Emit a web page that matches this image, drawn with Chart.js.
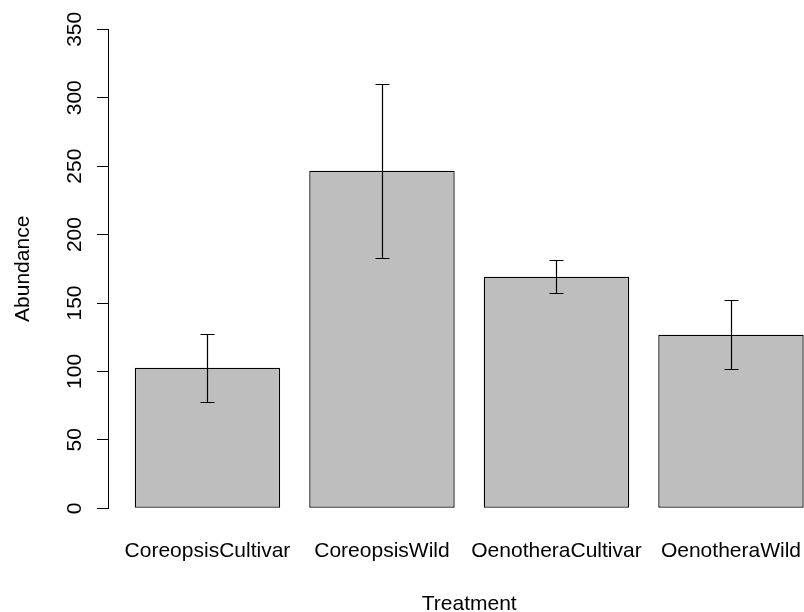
<!DOCTYPE html>
<html>
<head>
<meta charset="utf-8">
<script src="https://cdn.jsdelivr.net/npm/chart.js@4.4.0/dist/chart.umd.min.js"></script>
<style>
  html, body { margin: 0; padding: 0; background: #fff; overflow: hidden; }
  body { width: 804px; height: 612px; }
  canvas { display: block; }
</style>
</head>
<body>
<canvas id="barChart" width="831" height="612"></canvas>
<script>
// Data
const categories = ['CoreopsisCultivar', 'CoreopsisWild', 'OenotheraCultivar', 'OenotheraWild'];
const means = [102.7, 246.6, 169.2, 126.8];
const stdErrors = [24.7, 63.5, 12.2, 25.2];
const yTicks = [0, 50, 100, 150, 200, 250, 300, 350];

const FONT_FAMILY = "'Liberation Sans', Arial, sans-serif";
const FONT_SIZE = 21;

// barplot() layout: bars of width 1 with a gap of 0.2 in front of each
const barSpace = 0.2;
const barCenter = i => barSpace + 0.5 + i * (1 + barSpace);
const xLo = barSpace;
const xHi = categories.length * (1 + barSpace);
const xPad = (xHi - xLo) * 0.04;

// error bars drawn on top of the bars
const errorBars = {
  id: 'errorBars',
  afterDatasetsDraw(chart) {
    const ctx = chart.ctx;
    const yScale = chart.scales.y;
    const meta = chart.getDatasetMeta(0);
    ctx.save();
    ctx.strokeStyle = '#000';
    ctx.lineWidth = 1.2;
    meta.data.forEach((bar, i) => {
      const top = Math.round(yScale.getPixelForValue(means[i] + stdErrors[i])) + 0.5;
      const bottom = Math.round(yScale.getPixelForValue(means[i] - stdErrors[i])) + 0.5;
      const x = Math.round(bar.x) + 0.5;
      ctx.beginPath();
      ctx.moveTo(x, top);
      ctx.lineTo(x, bottom);
      ctx.moveTo(x - 7, top);
      ctx.lineTo(x + 7, top);
      ctx.moveTo(x - 7, bottom);
      ctx.lineTo(x + 7, bottom);
      ctx.stroke();
    });
    ctx.restore();
  }
};

// rotated y tick labels and the two axis titles
const axisText = {
  id: 'axisText',
  afterDraw(chart) {
    const { ctx, chartArea, scales } = chart;
    ctx.save();
    ctx.fillStyle = '#000';
    ctx.font = FONT_SIZE + 'px ' + FONT_FAMILY;
    ctx.textAlign = 'center';
    ctx.textBaseline = 'alphabetic';

    scales.y.ticks.forEach(t => {
      ctx.save();
      ctx.translate(81, scales.y.getPixelForValue(t.value));
      ctx.rotate(-Math.PI / 2);
      ctx.fillText(String(t.value), 0, 0);
      ctx.restore();
    });

    ctx.save();
    ctx.translate(29, (chartArea.top + chartArea.bottom) / 2);
    ctx.rotate(-Math.PI / 2);
    ctx.fillText('Abundance', 0, 0);
    ctx.restore();

    ctx.fillText('Treatment', (chartArea.left + chartArea.right) / 2, 610);
    ctx.restore();
  }
};

new Chart(document.getElementById('barChart'), {
  type: 'bar',
  data: {
    datasets: [{
      data: categories.map((c, i) => ({ x: barCenter(i), y: means[i] })),
      backgroundColor: '#bebebe',
      borderColor: '#000',
      borderWidth: 1.3,
      borderSkipped: false,
      categoryPercentage: 1,
      barPercentage: 1 / (1 + barSpace)
    }]
  },
  options: {
    responsive: false,
    animation: false,
    events: [],
    layout: { padding: { top: 29.3, left: 0, right: 0, bottom: 0 } },
    plugins: {
      legend: { display: false },
      tooltip: { enabled: false }
    },
    scales: {
      x: {
        type: 'linear',
        offset: false,
        bounds: 'data',
        min: xLo - xPad,
        max: xHi + xPad,
        afterBuildTicks: s => { s.ticks = categories.map((c, i) => ({ value: barCenter(i) })); },
        afterFit: s => { s.height = 103.7; },
        grid: { display: false, drawTicks: false, offset: false },
        border: { display: false },
        ticks: {
          autoSkip: false,
          maxRotation: 0,
          minRotation: 0,
          padding: 30,
          color: '#000',
          font: { family: FONT_FAMILY, size: FONT_SIZE },
          callback: (v, i) => categories[i]
        }
      },
      y: {
        min: 0,
        max: 350,
        afterBuildTicks: s => { s.ticks = yTicks.map(v => ({ value: v })); },
        afterFit: s => { s.width = 108; },
        grid: { drawOnChartArea: false, drawTicks: true, tickLength: 11, color: '#000', lineWidth: 1 },
        border: { display: true, color: '#000', width: 1 },
        ticks: { display: false }
      }
    }
  },
  plugins: [errorBars, axisText]
});
</script>
</body>
</html>
